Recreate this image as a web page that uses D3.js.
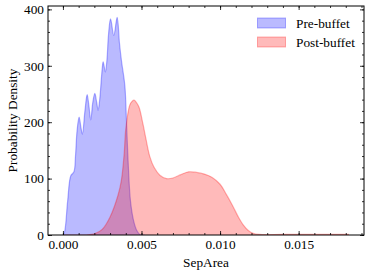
<!DOCTYPE html>
<html>
<head>
<meta charset="utf-8">
<script src="https://cdn.jsdelivr.net/npm/d3@7"></script>
<style>
  body { margin: 0; background: #fff; }
  text { font-family: "Liberation Serif", "DejaVu Serif", serif; }
</style>
</head>
<body>
<script>
// KDE
let preX = [0.0000, 0.0001, 0.0003, 0.0005, 0.0007, 0.0008, 0.0009, 0.00103, 0.00115, 0.00124,
  0.0014, 0.00154, 0.00165, 0.00177, 0.0019, 0.00203, 0.00215, 0.00224, 0.00234, 0.0025,
  0.00256, 0.0027, 0.0028, 0.0029, 0.00303, 0.00324, 0.00345, 0.0036, 0.00372, 0.00394,
  0.00404, 0.00415, 0.0043, 0.0045, 0.0047, 0.0049, 0.0052]
let preY = [0, 5, 60, 105, 112, 140, 185, 209, 190, 179,
  220, 249, 230, 204, 235, 251, 235, 221, 240, 295,
  307, 289, 310, 355, 383, 354, 386, 340, 310, 265,
  205, 130, 60, 25, 8, 1, 0]

let postX = [0.0000, 0.0015, 0.0020, 0.0025, 0.0030, 0.0035, 0.00372, 0.0039, 0.0040, 0.00425,
  0.0044, 0.00453, 0.0047, 0.00485, 0.0051, 0.0053, 0.00553, 0.0058, 0.00617, 0.00659,
  0.0070, 0.0075, 0.0080, 0.0085, 0.0090, 0.0095, 0.0100, 0.0104, 0.0108, 0.0112,
  0.01147, 0.0118, 0.0121, 0.0125, 0.014, 0.016, 0.0182]
let postY = [0, 0, 2, 10, 32, 70, 97, 145, 188, 230,
  237, 239, 234, 226, 196, 168, 139, 120, 106, 100,
  101, 107, 112, 111, 108, 102, 90, 72, 52, 30,
  18, 8, 3, 1, 1, 1, 1]

let seriesNames = ['Pre-buffet', 'Post-buffet']
let seriesColors = ['blue', 'red']
let xTicks = [0, 0.005, 0.010, 0.015]
let yTicks = [0, 100, 200, 300, 400]

let width = 373
let height = 275
let margin = { top: 6, right: 9, bottom: 40, left: 48 }

let svg = d3.select('body')
  .append('svg')
  .attr('width', width)
  .attr('height', height)

let x = d3.scaleLinear()
  .domain([-0.00095, 0.01916])
  .range([margin.left, width - margin.right])

let y = d3.scaleLinear()
  .domain([0, 406])
  .range([height - margin.bottom, margin.top])
  .clamp(true)

let area = d3.area()
  .x(d => x(d[0]))
  .y0(y(0))
  .y1(d => y(d[1]))
  .curve(d3.curveCatmullRom.alpha(0.5))

let line = d3.line()
  .x(d => x(d[0]))
  .y(d => y(d[1]))
  .curve(d3.curveCatmullRom.alpha(0.5))

let series = [d3.zip(preX, preY), d3.zip(postX, postY)]

svg.append('clipPath')
  .attr('id', 'plot-clip')
  .append('rect')
  .attr('x', margin.left)
  .attr('y', margin.top)
  .attr('width', width - margin.left - margin.right)
  .attr('height', height - margin.top - margin.bottom)

let plot = svg.append('g').attr('clip-path', 'url(#plot-clip)')

series.forEach((s, i) => {
  plot.append('path')
    .attr('d', area(s))
    .attr('fill', seriesColors[i])
    .attr('fill-opacity', 0.27)
  plot.append('path')
    .attr('d', line(s))
    .attr('fill', 'none')
    .attr('stroke', seriesColors[i])
    .attr('stroke-opacity', 0.3)
    .attr('stroke-width', 1.2)
})

// ticks, all pointing in
let xMinor = d3.range(0, 0.0191, 0.001)
let yMinor = d3.range(0, 401, 20)
let fs = '13.3px'

let axBottom = svg.append('g')
  .attr('transform', `translate(0,${height - margin.bottom})`)
  .call(d3.axisBottom(x).tickValues(xMinor).tickSize(-2).tickFormat(''))
axBottom.append('g')
  .call(d3.axisBottom(x).tickValues(xTicks).tickSize(-4).tickPadding(5).tickFormat(d3.format('.3f')))

let axTop = svg.append('g')
  .attr('transform', `translate(0,${margin.top})`)
  .call(d3.axisTop(x).tickValues(xMinor).tickSize(-2).tickFormat(''))
axTop.append('g')
  .call(d3.axisTop(x).tickValues(xTicks).tickSize(-4).tickFormat(''))

let axLeft = svg.append('g')
  .attr('transform', `translate(${margin.left},0)`)
  .call(d3.axisLeft(y).tickValues(yMinor).tickSize(-2).tickFormat(''))
axLeft.append('g')
  .call(d3.axisLeft(y).tickValues(yTicks).tickSize(-4).tickPadding(4))

let axRight = svg.append('g')
  .attr('transform', `translate(${width - margin.right},0)`)
  .call(d3.axisRight(y).tickValues(yMinor).tickSize(-2).tickFormat(''))
axRight.append('g')
  .call(d3.axisRight(y).tickValues(yTicks).tickSize(-4).tickFormat(''))

svg.selectAll('.domain').remove()
svg.selectAll('.tick line').attr('stroke', '#000').attr('stroke-width', 0.8)
svg.selectAll('.tick text')
  .attr('font-family', '"Liberation Serif", serif')
  .attr('font-size', fs)
  .attr('fill', '#000')

svg.append('rect')
  .attr('x', margin.left)
  .attr('y', margin.top)
  .attr('width', width - margin.left - margin.right)
  .attr('height', height - margin.top - margin.bottom)
  .attr('fill', 'none')
  .attr('stroke', '#000')
  .attr('stroke-width', 1)

svg.append('text')
  .attr('x', (margin.left + width - margin.right) / 2)
  .attr('y', 267)
  .attr('text-anchor', 'middle')
  .attr('font-size', fs)
  .text('SepArea')

svg.append('text')
  .attr('transform', `translate(17,${(margin.top + height - margin.bottom) / 2}) rotate(-90)`)
  .attr('text-anchor', 'middle')
  .attr('font-size', fs)
  .text('Probability Density')

// legend
let legend = svg.append('g')
seriesNames.forEach((name, i) => {
  legend.append('rect')
    .attr('x', 257.5)
    .attr('y', 18 + i * 19)
    .attr('width', 28)
    .attr('height', 10)
    .attr('fill', seriesColors[i])
    .attr('fill-opacity', 0.27)
    .attr('stroke', seriesColors[i])
    .attr('stroke-opacity', 0.3)
  legend.append('text')
    .attr('x', 296)
    .attr('y', 27.5 + i * 19)
    .attr('font-size', fs)
    .text(name)
})
</script>
</body>
</html>
